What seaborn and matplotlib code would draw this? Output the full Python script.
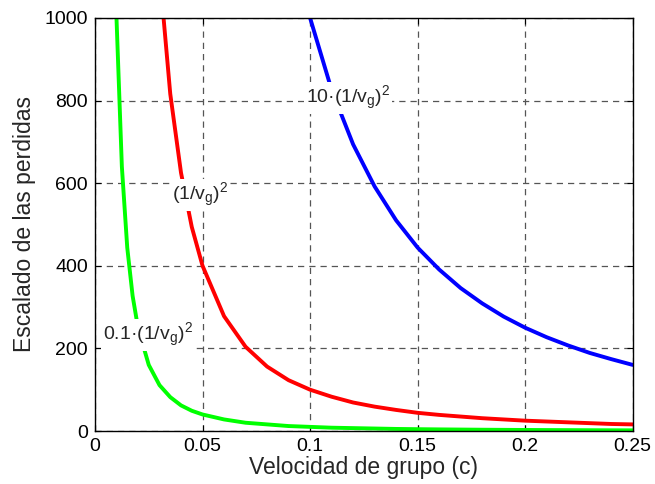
import matplotlib
matplotlib.use("Agg")
import matplotlib.pyplot as plt
import seaborn as sns

# velocidad de grupo (c)
v_low = [0.01, 0.0125, 0.015, 0.0175, 0.02, 0.025, 0.03, 0.035, 0.04, 0.045,
         0.05, 0.06, 0.07, 0.08, 0.09, 0.10, 0.11, 0.12, 0.13, 0.14, 0.15,
         0.16, 0.17, 0.18, 0.19, 0.20, 0.21, 0.22, 0.23, 0.24, 0.25]
v_high = [0.10, 0.11, 0.12, 0.13, 0.14, 0.15, 0.16, 0.17, 0.18, 0.19, 0.20,
          0.21, 0.22, 0.23, 0.24, 0.25]

# escalado de las perdidas
loss_01 = [1000, 640, 444, 327, 250, 160, 111, 82, 62, 49,
           40, 28, 20, 16, 12, 10, 8, 7, 6, 5, 4.4,
           3.9, 3.5, 3.1, 2.8, 2.5, 2.3, 2.1, 1.9, 1.7, 1.6]
loss_1 = [10000, 6400, 4444, 3265, 2500, 1600, 1111, 816, 625, 494,
          400, 278, 204, 156, 123, 100, 83, 69, 59, 51, 44,
          39, 35, 31, 28, 25, 23, 21, 19, 17, 16]
loss_10 = [1000, 826, 694, 592, 510, 444, 391, 346, 309, 277, 250,
           227, 207, 189, 174, 160]

x_ticks = [0, 0.05, 0.1, 0.15, 0.2, 0.25]
x_ticklabels = ["0", "0.05", "0.1", "0.15", "0.2", "0.25"]
y_ticks = [0, 200, 400, 600, 800, 1000]

sns.set_style("white")
plt.rcParams["font.family"] = ["Liberation Sans", "DejaVu Sans"]
plt.rcParams["mathtext.default"] = "regular"

fig = plt.figure(figsize=(6.55, 4.84), dpi=100)
ax = fig.add_axes([0.145, 0.1095, 0.821, 0.8535])

sns.lineplot(x=v_high, y=loss_10, color="#0000ff", linewidth=2.8, ax=ax)
sns.lineplot(x=v_low, y=loss_1, color="#ff0000", linewidth=2.8, ax=ax)
sns.lineplot(x=v_low, y=loss_01, color="#00ff00", linewidth=2.8, ax=ax)

ax.set_xlim(0, 0.25)
ax.set_ylim(0, 1000)
ax.set_xticks(x_ticks)
ax.set_xticklabels(x_ticklabels)
ax.set_yticks(y_ticks)
ax.grid(True, linestyle=(0, (5, 4)), color="#555555", linewidth=0.9)
ax.set_axisbelow(True)
for s in ax.spines.values():
    s.set_color("black")
    s.set_linewidth(1.0)
ax.tick_params(direction="in", length=4, labelsize=14, colors="black",
               top=True, right=True, bottom=True, left=True, pad=5)

ax.set_xlabel("Velocidad de grupo (c)", fontsize=16.5, labelpad=1)
ax.set_ylabel("Escalado de las perdidas", fontsize=16.5, labelpad=6)

box = dict(facecolor="white", edgecolor="none", pad=1.5)
ax.text(0.1176, 806, "10·(1/v$_g$)$^2$", fontsize=14, ha="center",
        va="center", bbox=box)
ax.text(0.0488, 571, "(1/v$_g$)$^2$", fontsize=14, ha="center",
        va="center", bbox=box)
ax.text(0.0246, 232, "0.1·(1/v$_g$)$^2$", fontsize=14, ha="center",
        va="center", bbox=box)

fig.savefig("out.png", dpi=100)
